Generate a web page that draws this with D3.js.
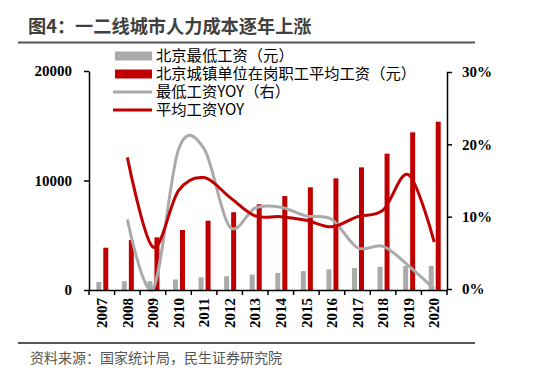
<!DOCTYPE html>
<html lang="zh">
  <head>
    <meta charset="UTF-8"/>
    <title>图4</title>
    <script src="https://d3js.org/d3.v7.min.js"></script>
    <style>
      body { margin: 0; background: #fff; }
      .cn { font-family: "Noto Sans CJK SC", sans-serif; }
      .axis text { font-family: "Liberation Serif", serif; font-weight: bold; font-size: 15px; fill: #000; }
      .axis path, .axis line { stroke: #000; stroke-width: 1.5px; }
    </style>
  </head>
  <body>
    <script>
      const years = ["2007","2008","2009","2010","2011","2012","2013","2014","2015","2016","2017","2018","2019","2020"]
      const minWage = [730, 800, 800, 960, 1160, 1260, 1400, 1560, 1720, 1890, 2000, 2120, 2200, 2200]
      const avgWage = [3860, 4570, 4810, 5480, 6330, 7100, 7830, 8580, 9380, 10200, 11200, 12450, 14400, 15370]
      const minYoy = [null, 9.6, 0, 19.3, 19.4, 8.6, 11.2, 11.3, 10.1, 9.6, 5.7, 5.9, 3.2, 0]
      const avgYoy = [null, 18.2, 5.8, 13.6, 15.4, 12.7, 10.1, 10.0, 9.5, 8.6, 10.0, 10.9, 15.8, 6.5]
      const leftTicks = [0, 10000, 20000]
      const rightTicks = [0, 10, 20, 30]

      const W = 554, H = 374
      const margin = {top: 71, right: 107, bottom: 84, left: 89}
      const grey = "#aaaaaa", red = "#c00000"

      const svg = d3.select("body").append("svg")
          .attr("width", W)
          .attr("height", H)

      // title and rules
      svg.append("text").attr("class", "cn")
          .attr("x", 28).attr("y", 33)
          .attr("font-size", 18.2).attr("font-weight", "bold").attr("fill", "#404040")
          .text("图4：一二线城市人力成本逐年上涨")
      svg.append("line").attr("x1", 18).attr("x2", 475).attr("y1", 42.5).attr("y2", 42.5)
          .attr("stroke", "#555").attr("stroke-width", 2)
      svg.append("line").attr("x1", 18).attr("x2", 475).attr("y1", 343).attr("y2", 343)
          .attr("stroke", "#555").attr("stroke-width", 2)
      svg.append("text").attr("class", "cn")
          .attr("x", 30).attr("y", 363)
          .attr("font-size", 14).attr("fill", "#555")
          .text("资料来源：国家统计局，民生证券研究院")

      const x = d3.scaleBand().domain(years).range([margin.left, W - margin.right])
      const yL = d3.scaleLinear().domain([0, 20000]).range([H - margin.bottom, margin.top])
      const yR = d3.scaleLinear().domain([0, 30]).range([H - margin.bottom - 1, margin.top + 1])

      const bw = 5
      const g = svg.append("g")

      g.selectAll(".min").data(years).join("rect")
          .attr("x", (d, i) => x(d) + x.bandwidth() / 2 - bw - 0.5)
          .attr("width", bw)
          .attr("y", (d, i) => yL(minWage[i]))
          .attr("height", (d, i) => yL(0) - yL(minWage[i]))
          .attr("fill", grey)

      g.selectAll(".avg").data(years).join("rect")
          .attr("x", (d, i) => x(d) + x.bandwidth() / 2 + 1.5)
          .attr("width", bw)
          .attr("y", (d, i) => yL(avgWage[i]))
          .attr("height", (d, i) => yL(0) - yL(avgWage[i]))
          .attr("fill", red)

      const line = d3.line()
          .defined(d => d[1] != null)
          .x(d => x(d[0]) + x.bandwidth() / 2)
          .y(d => yR(d[1]))
          .curve(d3.curveCardinal.tension(0))

      g.append("path").datum(years.map((d, i) => [d, minYoy[i]]))
          .attr("d", line).attr("fill", "none")
          .attr("stroke", grey).attr("stroke-width", 3)
      g.append("path").datum(years.map((d, i) => [d, avgYoy[i]]))
          .attr("d", line).attr("fill", "none")
          .attr("stroke", red).attr("stroke-width", 3)

      // axes
      const xAxis = svg.append("g").attr("class", "axis")
          .attr("transform", `translate(0,${H - margin.bottom})`)
          .call(d3.axisBottom(x).tickSize(0).tickSizeOuter(0))
      xAxis.selectAll(".tick text")
          .attr("transform", "rotate(-90)")
          .attr("text-anchor", "end")
          .attr("x", -8).attr("y", 0).attr("dy", "0.35em")
          .attr("font-size", 14)
      xAxis.selectAll(".bt").data(d3.range(years.length + 1)).join("line")
          .attr("x1", i => margin.left + i * x.step())
          .attr("x2", i => margin.left + i * x.step())
          .attr("y1", 0).attr("y2", 5)

      svg.append("g").attr("class", "axis")
          .attr("transform", `translate(${margin.left},0)`)
          .call(d3.axisLeft(yL).tickValues(leftTicks).tickFormat(d3.format("d")).tickSize(5).tickSizeOuter(0).tickPadding(12))

      svg.append("g").attr("class", "axis")
          .attr("transform", `translate(${W - margin.right},0)`)
          .call(d3.axisRight(yR).tickValues(rightTicks).tickFormat(d => d + "%").tickSize(5).tickSizeOuter(0).tickPadding(10))

      // legend
      const legend = [
        {label: "北京最低工资（元）", color: grey, type: "bar"},
        {label: "北京城镇单位在岗职工平均工资（元）", color: red, type: "bar"},
        {label: "最低工资YOY（右）", color: grey, type: "line"},
        {label: "平均工资YOY", color: red, type: "line"}
      ]
      const lg = svg.append("g").attr("transform", "translate(115,56)")
      legend.forEach((d, i) => {
        const row = lg.append("g").attr("transform", `translate(0,${i * 18})`)
        if (d.type === "bar") {
          row.append("rect").attr("x", 0).attr("y", -4.5).attr("width", 37).attr("height", 9).attr("fill", d.color)
        } else {
          row.append("line").attr("x1", -2).attr("x2", 37).attr("y1", 0).attr("y2", 0)
              .attr("stroke", d.color).attr("stroke-width", 3)
        }
        row.append("text").attr("class", "cn")
            .attr("x", 41).attr("y", 0).attr("dy", "0.35em")
            .attr("font-size", 15.3).attr("fill", "#000")
            .text(d.label)
      })
    </script>
  </body>
</html>
